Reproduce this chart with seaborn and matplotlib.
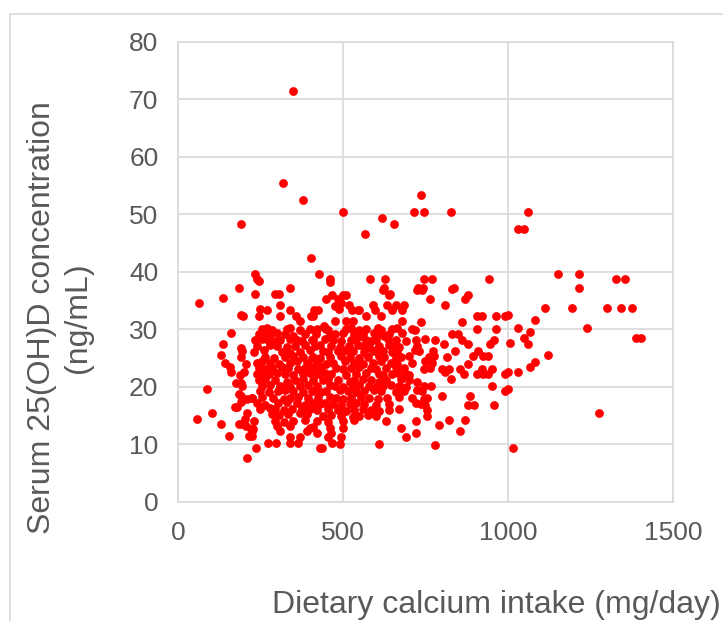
import matplotlib.pyplot as plt
import seaborn as sns
import pandas as pd
from matplotlib.patches import Rectangle

# (calcium intake mg/day, serum 25(OH)D ng/mL), grouped by area
low_intake = [
    (63, 34.5), (138, 35.4), (185, 37.1), (192, 32.5), (162, 29.3), (138, 27.5),
    (130, 25.6), (144, 24.2), (158, 23.4), (162, 22.5), (175, 20.6), (192, 20.6),
    (185, 18.8), (192, 17.4), (172, 16.5), (180, 16.5), (185, 13.6), (194, 13.6),
    (208, 15.4), (204, 14.4), (192, 26.8), (192, 25.1), (200, 22.5), (87, 19.6),
    (57, 14.4), (102, 15.4), (131, 13.6), (154, 11.4), (214, 11.4), (225, 11.4),
    (222, 12.7), (229, 12.7), (208, 7.6), (238, 9.3), (192, 48.3), (196, 32.3),
    (195, 26.2), (205, 24.0), (195, 20.1), (190, 18.4), (210, 17.8), (225, 12.3),
    (225, 18.1), (205, 13.2), (230, 14.1), (188, 22.0),
]

outliers = [
    (348, 71.4), (317, 55.4), (380, 52.4), (500, 50.3), (566, 46.5), (617, 49.3),
    (656, 48.3), (714, 50.3), (745, 50.3), (737, 53.4), (828, 50.3), (1061, 50.3),
    (1030, 47.4), (1047, 47.4), (403, 42.3), (1151, 39.6), (1216, 39.6), (1216, 37.1),
    (1328, 38.7), (1355, 38.7), (1299, 33.7), (1343, 33.7), (1376, 33.7), (1239, 30.2),
    (1388, 28.5), (1402, 28.5), (1194, 33.7), (1113, 33.7), (1083, 31.6), (1120, 25.6),
    (1083, 24.3), (1067, 23.4), (1276, 15.4), (1014, 9.3), (1000, 19.6), (1061, 27.5),
    (1047, 28.5), (1067, 29.5), (1030, 30.2), (1030, 22.5), (1000, 22.5), (1005, 27.6),
    (1000, 32.5), (235, 39.6), (239, 38.7), (235, 36.2), (294, 36.2), (305, 36.2),
    (340, 37.1), (428, 39.6), (460, 38.7), (582, 38.7), (628, 38.7), (625, 37.1),
    (642, 36.2), (728, 37.1), (742, 37.1), (745, 38.7), (769, 38.7), (836, 37.1),
    (941, 38.7), (245, 38.4),
]

core_left = [
    (308, 34.2), (248, 33.5), (270, 33.3), (245, 32.3), (308, 32.3), (340, 33.3),
    (358, 32.3), (370, 31.5), (402, 32.3),
    (255, 30.0), (270, 30.2), (285, 29.8), (330, 30.0), (340, 30.2), (370, 29.8), (400, 30.0),
    (245, 29.1), (262, 28.9), (280, 29.1), (300, 29.3), (325, 29.1), (350, 28.9), (385, 29.1),
    (235, 28.1), (255, 28.3), (272, 28.1), (290, 27.9), (310, 28.1), (340, 28.3), (360, 28.1),
    (375, 27.9), (405, 28.1),
    (240, 27.1), (280, 27.3), (300, 27.1), (330, 26.9), (355, 27.1), (385, 27.3),
    (230, 26.1), (260, 26.3), (315, 26.1), (340, 25.9), (370, 26.1), (400, 26.3),
    (265, 25.2), (290, 25.0), (325, 25.2), (350, 25.4), (380, 25.2), (405, 25.0),
    (240, 24.2), (255, 24.4), (280, 24.2), (305, 24.0), (340, 24.2), (360, 24.4), (390, 24.2),
    (245, 23.2), (265, 23.0), (285, 23.2), (315, 23.4), (335, 23.2), (365, 23.0), (385, 23.2),
    (410, 23.4),
    (240, 22.2), (255, 22.0), (275, 22.2), (300, 22.4), (325, 22.2), (350, 22.0), (380, 22.2),
    (400, 22.4),
    (245, 21.1), (265, 21.3), (295, 21.1), (330, 20.9), (355, 21.1), (380, 21.3), (410, 21.1),
    (255, 20.1), (280, 20.3), (310, 20.1), (340, 19.9), (370, 20.1), (395, 20.3),
    (250, 19.2), (275, 19.0), (302, 19.2), (325, 19.4), (350, 19.2), (380, 19.0), (405, 19.2),
    (225, 18.1), (255, 18.3), (288, 18.1), (320, 17.9), (340, 18.1), (365, 18.3), (395, 18.1),
    (240, 17.1), (265, 16.9), (302, 17.1), (330, 17.3), (360, 17.1), (385, 16.9), (410, 17.1),
    (250, 16.1), (280, 16.3), (295, 16.1), (320, 15.9), (345, 16.1), (375, 16.3), (400, 16.1),
    (285, 15.2), (305, 15.0), (335, 15.2), (370, 15.4), (390, 15.2),
    (295, 14.1), (320, 13.9), (350, 14.1), (385, 14.3),
    (300, 13.2), (340, 13.2), (410, 13.0),
    (310, 12.3), (390, 12.3), (340, 11.3), (370, 11.3),
    (274, 10.3), (298, 10.3), (340, 10.3), (363, 10.3),
]

core_mid = [
    (462, 38.2), (622, 36.9), (638, 36.0), (725, 36.9), (738, 36.9), (765, 35.2),
    (468, 36.0), (500, 36.0), (510, 36.0), (450, 35.2), (485, 35.2), (495, 34.5),
    (475, 34.1), (488, 33.6), (518, 34.2), (528, 33.3), (545, 33.3), (592, 34.2),
    (598, 33.3), (632, 34.2), (662, 34.2), (685, 34.2), (550, 33.3), (570, 32.3),
    (615, 32.3), (650, 33.3), (678, 33.3), (678, 31.5), (735, 31.3), (412, 33.3),
    (425, 33.3), (410, 32.3), (475, 31.4), (510, 31.4), (530, 31.4), (442, 30.6),
    (450, 30.0),
    (420, 30.0), (445, 30.2), (455, 29.8), (510, 30.0), (525, 30.2), (550, 29.8),
    (570, 30.0), (605, 30.2), (615, 29.8), (648, 30.0), (665, 30.2), (708, 30.0), (718, 29.8),
    (418, 29.1), (460, 28.9), (475, 29.1), (500, 29.3), (535, 29.1), (555, 28.9),
    (560, 29.1), (595, 29.3), (615, 29.1), (625, 28.9), (640, 29.1), (680, 29.3),
    (410, 28.1), (445, 28.3), (470, 28.1), (495, 27.9), (525, 28.1), (540, 28.3),
    (570, 28.1), (585, 27.9), (600, 28.1), (635, 28.3), (660, 28.1), (690, 27.9),
    (720, 28.1), (750, 28.3),
    (415, 27.1), (430, 27.3), (465, 27.1), (490, 26.9), (518, 27.1), (545, 27.3),
    (560, 27.1), (580, 26.9), (610, 27.1), (640, 27.3), (650, 27.1), (670, 26.9), (725, 27.1),
    (440, 26.2), (455, 26.0), (485, 26.2), (510, 26.4), (530, 26.2), (565, 26.0),
    (590, 26.2), (600, 26.4), (622, 26.2), (648, 26.0), (665, 26.2), (718, 26.4), (730, 26.2),
    (410, 25.2), (430, 25.0), (460, 25.2), (495, 25.4), (520, 25.2), (550, 25.0),
    (575, 25.2), (610, 25.4), (625, 25.2), (660, 25.0), (675, 25.2), (700, 25.4), (760, 25.2),
    (420, 24.2), (450, 24.0), (470, 24.2), (505, 24.4), (535, 24.2), (560, 24.0),
    (590, 24.2), (615, 24.4), (645, 24.2), (665, 24.0), (710, 24.2), (750, 24.4),
    (415, 23.2), (435, 23.4), (480, 23.2), (500, 23.0), (525, 23.2), (550, 23.4),
    (585, 23.2), (600, 23.0), (630, 23.2), (660, 23.4), (685, 23.2), (745, 23.0), (765, 23.2),
    (425, 22.2), (445, 22.4), (465, 22.2), (510, 22.0), (540, 22.2), (570, 22.4),
    (610, 22.2), (622, 22.0), (648, 22.2), (668, 22.4), (690, 22.2), (700, 22.0),
    (440, 21.1), (455, 21.3), (485, 21.1), (520, 20.9), (535, 21.1), (560, 21.3),
    (585, 21.1), (610, 20.9), (630, 21.1), (675, 21.3), (700, 21.1), (725, 20.9),
    (420, 20.1), (460, 20.3), (475, 20.1), (500, 19.9), (530, 20.1), (550, 20.3),
    (578, 20.1), (600, 19.9), (620, 20.1), (645, 20.3), (670, 20.1), (690, 19.9), (745, 20.1),
    (415, 19.2), (435, 19.0), (450, 19.2), (490, 19.4), (515, 19.2), (540, 19.0),
    (565, 19.2), (595, 19.4), (615, 19.2), (660, 19.0), (685, 19.2), (725, 19.4), (740, 19.2),
    (425, 18.1), (460, 18.3), (480, 18.1), (500, 17.9), (525, 18.1), (555, 18.3),
    (580, 18.1), (605, 17.9), (632, 18.1), (670, 18.3), (710, 18.1), (745, 17.9), (755, 18.1),
    (430, 17.0), (445, 17.2), (470, 17.0), (495, 16.8), (520, 17.0), (540, 17.2),
    (565, 17.0), (600, 16.8), (640, 17.0), (720, 17.2), (735, 17.0), (750, 16.8),
    (420, 15.9), (455, 16.1), (485, 15.9), (510, 15.7), (535, 15.9), (560, 16.1),
    (585, 15.9), (610, 15.7), (640, 15.9), (670, 16.1), (755, 15.9),
    (440, 14.9), (465, 15.1), (495, 14.9), (530, 14.7), (550, 14.9), (575, 15.1),
    (600, 14.9), (755, 14.9),
    (420, 14.1), (455, 13.9), (500, 14.1), (535, 14.3), (630, 14.1), (720, 14.1),
    (400, 12.9), (460, 12.9), (500, 12.9), (675, 12.9),
    (420, 12.0), (465, 12.0), (720, 12.0),
    (455, 11.2), (495, 11.2), (690, 11.2),
    (466, 10.3), (490, 10.0), (608, 10.0), (431, 9.3), (438, 9.3),
]

core_right = [
    (830, 37.0), (808, 34.2), (870, 35.2), (878, 36.0), (905, 32.3), (920, 32.3),
    (965, 32.3), (992, 32.3), (860, 31.3), (905, 30.0), (965, 30.0), (830, 29.1),
    (848, 29.1), (862, 28.1), (880, 27.4), (780, 28.1), (805, 27.4), (958, 28.1),
    (945, 27.4), (772, 26.2), (775, 25.4), (838, 26.2), (910, 26.2), (895, 25.4),
    (925, 25.4), (938, 25.4), (815, 25.2), (878, 24.0), (770, 24.2), (800, 23.0),
    (822, 23.0), (810, 22.5), (828, 21.3), (855, 23.0), (920, 23.0), (950, 23.0),
    (905, 22.2), (925, 22.2), (940, 22.2), (868, 22.2), (992, 22.2), (768, 20.1),
    (950, 20.1), (800, 18.4), (885, 18.4), (992, 19.3), (878, 16.9), (898, 16.9),
    (958, 16.9), (790, 13.3), (822, 14.2), (870, 14.2), (855, 12.3), (780, 9.9),
]

groups = [low_intake, outliers, core_left, core_mid, core_right]
rows = [p for g in groups for p in g]
df = pd.DataFrame(rows, columns=["calcium", "serum"])

sns.set_style("white")
plt.rcParams["font.family"] = ["Liberation Sans", "DejaVu Sans"]

fig = plt.figure(figsize=(7.23, 6.21), dpi=100)
ax = fig.add_axes([0.246, 0.192, 0.685, 0.741])

sns.scatterplot(data=df, x="calcium", y="serum", color="#ff0000", s=40,
                linewidth=0, ax=ax, zorder=3)

ax.set_xlim(0, 1500)
ax.set_ylim(0, 80)
ax.set_xticks([0, 500, 1000, 1500])
ax.set_yticks(range(0, 81, 10))
ax.grid(True, color="#d9d9d9", linewidth=1.2)
ax.set_axisbelow(True)
for sp in ax.spines.values():
    sp.set_color("#d9d9d9")
    sp.set_linewidth(1.2)
ax.tick_params(length=0, labelsize=19, labelcolor="#595959", pad=14)
ax.set_xlabel("")
ax.set_ylabel("Serum 25(OH)D concentration\n(ng/mL)", fontsize=23,
              color="#595959", linespacing=1.25)
ax.yaxis.set_label_coords(-0.172, 0.40)
fig.text(0.686, 0.026, "Dietary calcium intake (mg/day)", fontsize=23,
         color="#595959", ha="center", va="center")

# outer chart frame
fig.patches.append(Rectangle((10 / 723, -0.05), 1.0, 1 - 14 / 621 + 0.05,
                             transform=fig.transFigure, fill=False,
                             edgecolor="#d9d9d9", linewidth=1.2))

fig.savefig("out.png", dpi=100)
